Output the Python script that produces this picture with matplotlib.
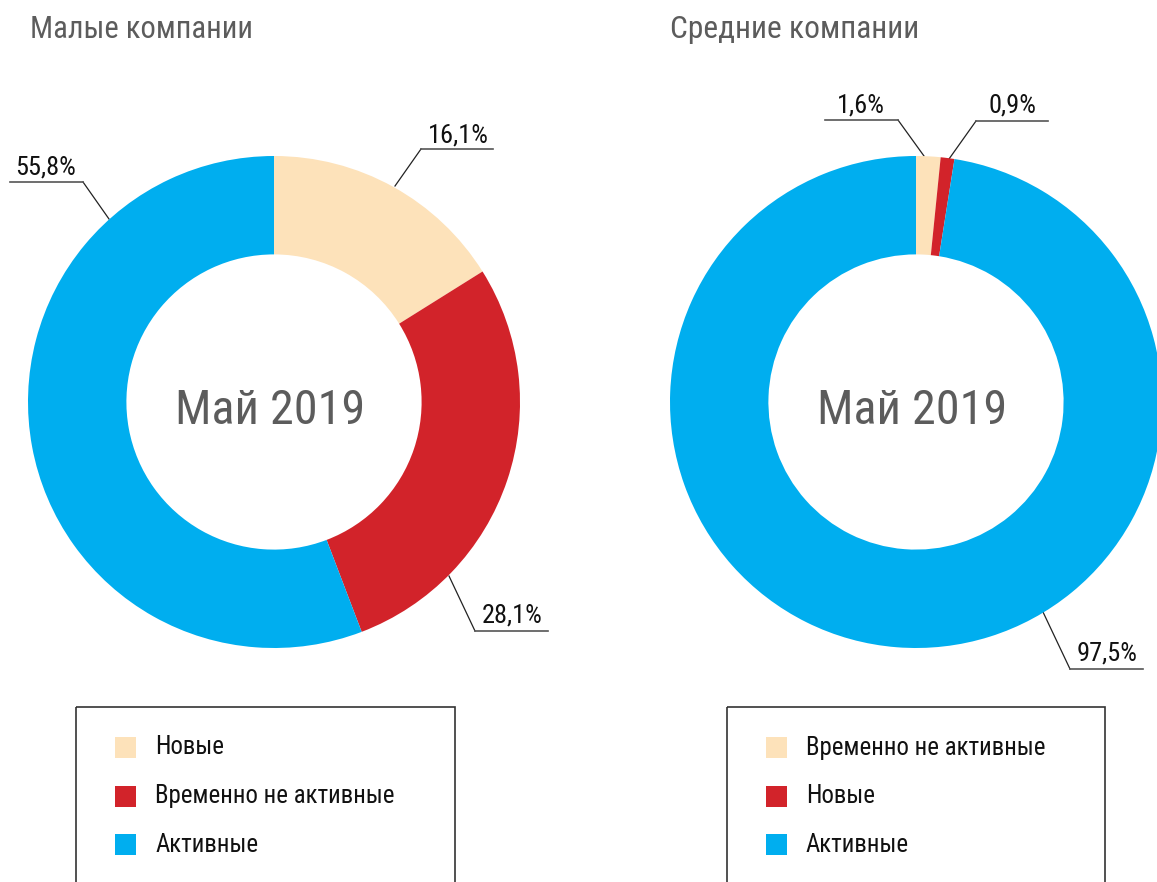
import matplotlib
matplotlib.use("Agg")
import matplotlib.pyplot as plt
from matplotlib.patches import Rectangle

plt.rcParams['font.family'] = ['Liberation Sans Narrow', 'Noto Sans Condensed', 'Roboto Condensed',
                               'DejaVu Sans Condensed', 'Noto Sans', 'DejaVu Sans']
plt.rcParams['font.stretch'] = 'condensed'

# data
titles = ["Малые компании", "Средние компании"]
center_text = "Май 2019"
small_labels = ["Новые", "Временно не активные", "Активные"]
small_values = [16.1, 28.1, 55.8]
medium_labels = ["Временно не активные", "Новые", "Активные"]
medium_values = [1.6, 0.9, 97.5]

colors = ["#FDE2BA", "#D2232A", "#00AEEF"]
grey = "#5c5c5c"

W, H = 1157, 882
fig = plt.figure(figsize=(W / 100, H / 100), dpi=100)
renderer = fig.canvas.get_renderer()

# overlay in pixel coords for titles, leader lines, legends
ov = fig.add_axes([0, 0, 1, 1])
ov.set_xlim(0, W)
ov.set_ylim(H, 0)
ov.axis('off')

def fit(t, target_w):
    # scale font size so the text is as wide as in the reference
    w = t.get_window_extent(renderer).width
    t.set_fontsize(t.get_fontsize() * target_w / w)
    return t.get_fontsize()

def pct(v):
    return f"{v:.1f}".replace('.', ',') + '%'

# one shared size for the percent labels ("28,1%" is ~61 px wide)
probe = ov.text(0, 0, "28,1%", fontsize=20)
label_size = fit(probe, 61)
probe.remove()

def donut(cx, cy, r, values, labels, title, title_x, title_w, leaders, legend_x, legend_w):
    ax = fig.add_axes([(cx - r) / W, 1 - (cy + r) / H, 2 * r / W, 2 * r / H])
    ax.pie(values, colors=colors, startangle=90, counterclock=False,
           radius=1, wedgeprops=dict(width=0.4, linewidth=0))
    ax.set_xlim(-1, 1)
    ax.set_ylim(-1, 1)
    ax.axis('off')
    t = ov.text(cx - 4, cy + 22, center_text, ha='center', va='baseline', fontsize=44, color=grey)
    fit(t, 190)

    t = ov.text(title_x, 38, title, ha='left', va='baseline', fontsize=24, color=grey)
    fit(t, title_w)

    # leader lines: (anchor, elbow, line end, text x, text baseline)
    for v, (anchor, elbow, end, tx, ty) in zip(values, leaders):
        ov.plot([anchor[0], elbow[0]], [anchor[1], elbow[1]], color='#222222', lw=0.9)
        ov.plot([elbow[0], end[0]], [elbow[1], end[1]], color='#555555', lw=1.2)
        ov.text(tx, ty, pct(v), ha='center', va='baseline', fontsize=label_size, color='#111111')

    # legend box, runs off the bottom edge
    ov.add_patch(Rectangle((legend_x, 707), legend_w, 200, fill=False,
                           edgecolor='#333333', lw=1.2, clip_on=False))
    texts = []
    for i, (lab, col) in enumerate(zip(labels, colors)):
        ry = 747.5 + 48.5 * i
        ov.add_patch(Rectangle((legend_x + 39, ry - 10.5), 21, 21, facecolor=col, lw=0))
        texts.append(ov.text(legend_x + 79, ry, lab, ha='left', va='center',
                             fontsize=17, color='#111111'))
    size = fit(texts[labels.index("Временно не активные")], 240)
    for t in texts:
        t.set_fontsize(size)
    return ax

donut(274, 402, 246, small_values, small_labels, titles[0], 30, 223,
      [((395, 186), (421, 149), (493, 149), 458, 142),
       ((449, 576), (475, 631), (548, 631), 512, 622),
       ((109, 219), (83, 182), (10, 182), 46, 175)],
      76, 379)

donut(916, 402, 246, medium_values, medium_labels, titles[1], 670, 250,
      [((924, 156), (898, 120), (825, 120), 861, 112),
       ((949, 159), (976, 121), (1048, 121), 1012, 112),
       ((1043, 612), (1070, 669), (1143, 669), 1107, 660)],
      727, 378)

fig.savefig("out.png", dpi=100)
